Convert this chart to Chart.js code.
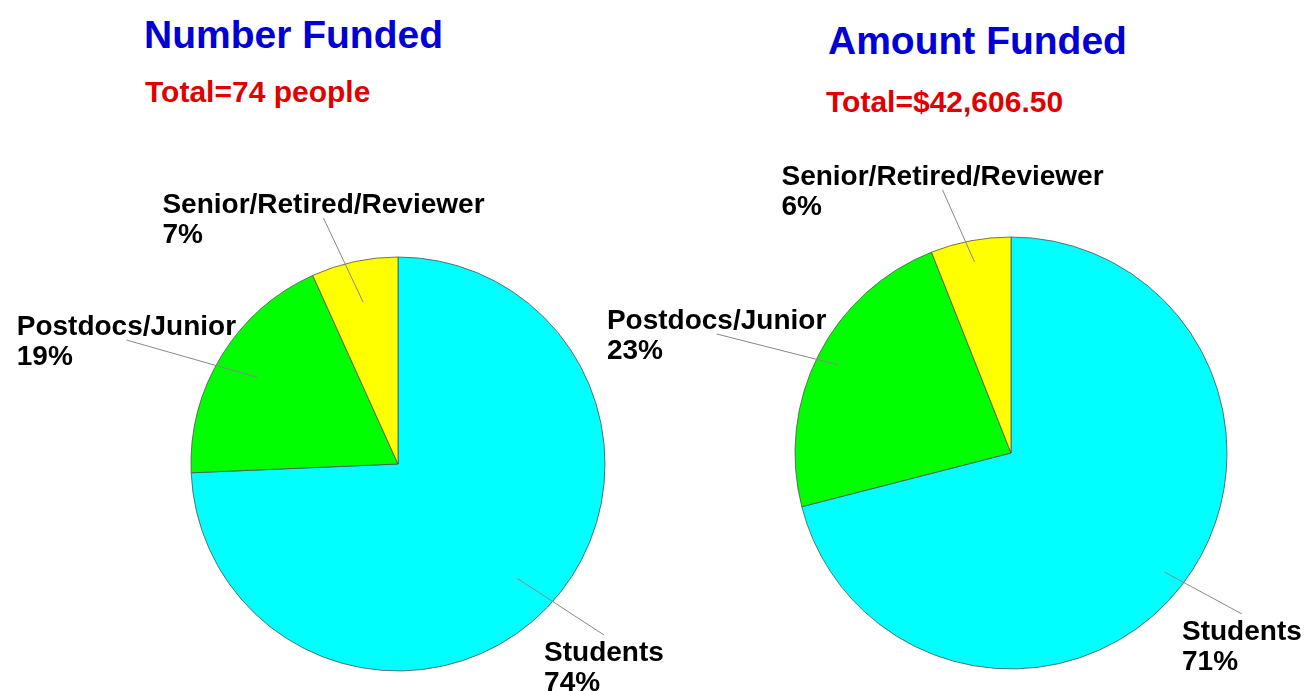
<!DOCTYPE html>
<html>
<head>
<meta charset="utf-8">
<script src="https://cdn.jsdelivr.net/npm/chart.js@4.4.1/dist/chart.umd.min.js"></script>
<style>
  body { margin: 0; background: #fff; width: 1305px; height: 691px; position: relative; overflow: hidden;
         font-family: "Liberation Sans", Arial, sans-serif; font-weight: bold; }
  .head { position: absolute; white-space: nowrap; line-height: 1; }
  .title { font-size: 39px; color: #0000d4; }
  .total { font-size: 30px; color: #e00000; }
  canvas { position: absolute; left: 0; top: 0; }
</style>
</head>
<body>
<div class="head title" style="left:144px;top:15px">Number Funded</div>
<div class="head total" style="left:145px;top:77px">Total=74 people</div>
<div class="head title" style="left:828px;top:21px">Amount Funded</div>
<div class="head total" style="left:826px;top:87px">Total=$42,606.50</div>
<canvas id="numberChart" width="1305" height="691"></canvas>
<canvas id="amountChart" width="1305" height="691"></canvas>
<script>
// categories, clockwise from 12 o'clock
const categories = ['Students', 'Postdocs/Junior', 'Senior/Retired/Reviewer'];
const peopleFunded = [55, 14, 5];     // of 74 people
const amountShare = [71, 23, 6];      // % of $42,606.50

const sliceColors = ['#00ffff', '#00ff00', '#ffff00'];

// labels with leader lines; spots are in units of the pie radius
const sliceLabels = {
  id: 'sliceLabels',
  afterDatasetsDraw(chart, args, opts) {
    const ctx = chart.ctx;
    const ds = chart.data.datasets[0];
    const total = ds.data.reduce((a, b) => a + b, 0);
    const arcs = chart.getDatasetMeta(0).data;
    ctx.save();
    ctx.font = 'bold 28px "Liberation Sans", Arial, sans-serif';
    ctx.textAlign = 'left';
    ctx.textBaseline = 'alphabetic';
    arcs.forEach((arc, i) => {
      const {x, y, startAngle, endAngle, outerRadius} =
        arc.getProps(['x', 'y', 'startAngle', 'endAngle', 'outerRadius'], true);
      const mid = (startAngle + endAngle) / 2;
      const spot = opts.spots[i];
      const ex = x + spot.dx * outerRadius;
      const ey = y + spot.dy * outerRadius;

      ctx.strokeStyle = '#888';
      ctx.lineWidth = 1;
      ctx.beginPath();
      ctx.moveTo(x + Math.cos(mid) * outerRadius * opts.inner, y + Math.sin(mid) * outerRadius * opts.inner);
      ctx.lineTo(ex, ey);
      ctx.stroke();

      const lines = [chart.data.labels[i], Math.round(ds.data[i] / total * 100) + '%'];
      const w = Math.max(...lines.map(t => ctx.measureText(t).width));
      const left = ex - w / 2;
      const base = spot.top ? ey + 26 : ey - 5;
      ctx.fillStyle = '#000';
      lines.forEach((t, k) => ctx.fillText(t, left, base + k * 30));
    });
    ctx.restore();
  }
};

function makePie(id, values, padding, radius, labelOpts) {
  return new Chart(document.getElementById(id), {
    type: 'pie',
    data: {
      labels: categories,
      datasets: [{
        data: values,
        backgroundColor: sliceColors,
        borderColor: '#505050',
        borderWidth: 0.8,
        radius: radius
      }]
    },
    options: {
      responsive: false,
      animation: false,
      events: [],
      layout: { padding: padding },
      plugins: {
        legend: { display: false },
        tooltip: { enabled: false },
        sliceLabels: labelOpts
      }
    },
    plugins: [sliceLabels]
  });
}

makePie('numberChart', peopleFunded,
  { left: 191, right: 700, top: 257, bottom: 20 }, 207,
  { inner: 0.8, spots: [
    { dx: 0.995, dy: 0.826, top: true },
    { dx: -1.312, dy: -0.599 },
    { dx: -0.360, dy: -1.188 }
  ] });

makePie('amountChart', amountShare,
  { left: 795, right: 78, top: 237, bottom: 22 }, 216,
  { inner: 0.9, spots: [
    { dx: 1.069, dy: 0.745, top: true },
    { dx: -1.363, dy: -0.551 },
    { dx: -0.317, dy: -1.218 }
  ] });
</script>
</body>
</html>
